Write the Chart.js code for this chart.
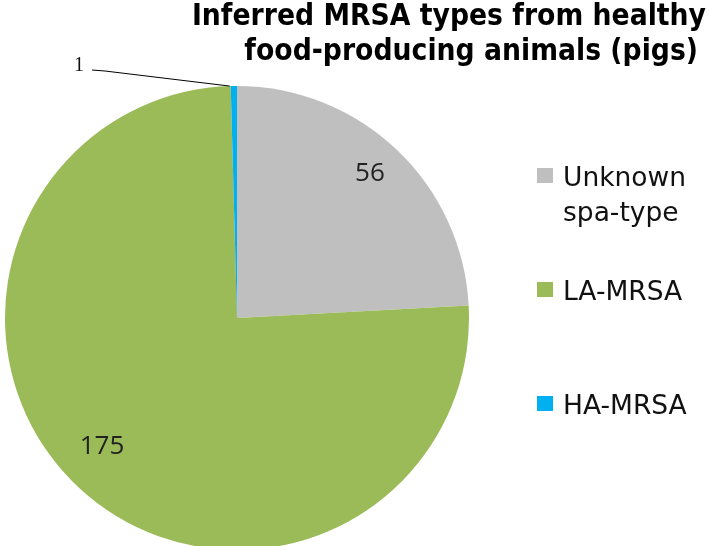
<!DOCTYPE html>
<html>
<head>
<meta charset="utf-8">
<script src="https://cdn.jsdelivr.net/npm/chart.js@4/dist/chart.umd.min.js"></script>
<style>
  html, body { margin: 0; padding: 0; background: #fff; overflow: hidden; }
  #wrap { width: 709px; height: 560px; position: relative; }
</style>
</head>
<body>
<div id="wrap"><canvas id="pieChart"></canvas></div>
<script>
// data
var labels = ['Unknown spa-type', 'LA-MRSA', 'HA-MRSA'];
var legendLines = [['Unknown', 'spa-type'], ['LA-MRSA'], ['HA-MRSA']];
var counts = [56, 175, 1];
var colors = ['#BFBFBF', '#9BBB59', '#00B0F0'];
var titleLines = ['Inferred MRSA types from healthy', 'food-producing animals (pigs)'];

// draws title, data labels and the legend on the right
var extras = {
    id: 'extras',
    afterDraw: function (chart) {
        var ctx = chart.ctx;
        var meta = chart.getDatasetMeta(0);
        ctx.save();

        // title (condensed a bit so the heavy face fits like the original)
        ctx.fillStyle = '#000';
        ctx.font = 'bold 30px "DejaVu Sans"';
        ctx.textAlign = 'right';
        ctx.textBaseline = 'alphabetic';
        var sx = 0.89;
        [[706, 25], [698, 60]].forEach(function (p, i) {
            ctx.save();
            ctx.translate(p[0], 0);
            ctx.scale(sx, 1);
            ctx.fillText(titleLines[i], 0, p[1]);
            ctx.restore();
        });

        // value labels
        var labelR = [0.845, 0.805];
        var labelShift = [-0.013, 0.063];
        ctx.textBaseline = 'middle';
        meta.data.forEach(function (arc, i) {
            var mid = (arc.startAngle + arc.endAngle) / 2;
            if (counts[i] < 5) {
                // small slice: label outside with leader line
                var ex = arc.x + Math.cos(arc.startAngle) * arc.outerRadius;
                var ey = arc.y + Math.sin(arc.startAngle) * arc.outerRadius;
                ctx.strokeStyle = '#000';
                ctx.lineWidth = 1;
                ctx.beginPath();
                ctx.moveTo(ex - 1, ey);
                ctx.lineTo(105, 71);
                ctx.lineTo(92, 70);
                ctx.stroke();
                ctx.fillStyle = '#111';
                ctx.font = '20px "Liberation Serif"';
                ctx.textAlign = 'center';
                ctx.fillText(String(counts[i]), 79, 66);
            } else {
                var r = arc.outerRadius * labelR[i];
                var a = mid + labelShift[i];
                ctx.font = '26px "Open Sans"';
                ctx.textAlign = 'center';
                ctx.fillStyle = '#222';
                ctx.fillText(String(counts[i]), arc.x + Math.cos(a) * r, arc.y + Math.sin(a) * r);
            }
        });

        // legend
        var rows = [176, 290, 404];
        ctx.font = '26.5px "DejaVu Sans"';
        ctx.textAlign = 'left';
        ctx.textBaseline = 'alphabetic';
        legendLines.forEach(function (lines, i) {
            ctx.fillStyle = colors[i];
            ctx.fillRect(537, rows[i] - 8, 16, 15);
            ctx.fillStyle = '#111';
            lines.forEach(function (t, j) {
                ctx.fillText(t, 563, rows[i] + 10 + j * 35);
            });
        });
        ctx.restore();
    }
};

var ctxPie = document.getElementById('pieChart').getContext('2d');
new Chart(ctxPie, {
    type: 'pie',
    data: {
        labels: labels,
        datasets: [{
            data: counts,
            backgroundColor: colors,
            borderWidth: 0
        }]
    },
    options: {
        responsive: true,
        maintainAspectRatio: false,
        animation: false,
        layout: { padding: { left: 5, right: 240, top: 86, bottom: 10 } },
        plugins: {
            legend: { display: false },
            tooltip: { enabled: false }
        }
    },
    plugins: [extras]
});
</script>
</body>
</html>
